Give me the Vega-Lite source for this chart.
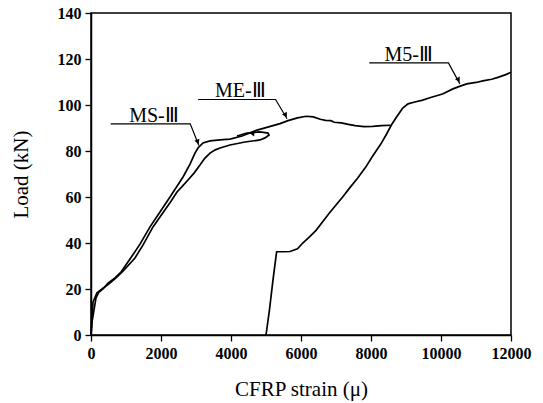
{
  "$schema": "https://vega.github.io/schema/vega-lite/v6.json",
  "autosize": "none",
  "width": 420,
  "height": 322,
  "padding": {"left": 91, "top": 13, "right": 32, "bottom": 68},
  "background": "white",
  "config": {
    "view": {"stroke": "black", "strokeWidth": 1.5},
    "font": "Liberation Serif"
  },
  "datasets": {
    "curves": [
      {"s": "A", "i": 0, "x": 0, "y": 0}, {"s": "A", "i": 1, "x": 29, "y": 5.7}, {"s": "A", "i": 2, "x": 86, "y": 10.9}, {"s": "A", "i": 3, "x": 143, "y": 16.1}, {"s": "A", "i": 4, "x": 229, "y": 18.7}, {"s": "A", "i": 5, "x": 343, "y": 20}, {"s": "A", "i": 6, "x": 486, "y": 22.6}, {"s": "A", "i": 7, "x": 686, "y": 24.8}, {"s": "A", "i": 8, "x": 857, "y": 27.4}, {"s": "A", "i": 9, "x": 1114, "y": 33}, {"s": "A", "i": 10, "x": 1400, "y": 39.5}, {"s": "A", "i": 11, "x": 1686, "y": 47}, {"s": "A", "i": 12, "x": 1971, "y": 53.5}, {"s": "A", "i": 13, "x": 2257, "y": 60}, {"s": "A", "i": 14, "x": 2629, "y": 68.7}, {"s": "A", "i": 15, "x": 2829, "y": 74.3}, {"s": "A", "i": 16, "x": 2971, "y": 79.1}, {"s": "A", "i": 17, "x": 3057, "y": 81.3}, {"s": "A", "i": 18, "x": 3200, "y": 83.5}, {"s": "A", "i": 19, "x": 3400, "y": 84.4}, {"s": "A", "i": 20, "x": 3686, "y": 84.8}, {"s": "A", "i": 21, "x": 3971, "y": 85.2}, {"s": "A", "i": 22, "x": 4314, "y": 86.5}, {"s": "A", "i": 23, "x": 4743, "y": 89.1}, {"s": "A", "i": 24, "x": 5100, "y": 90.6}, {"s": "A", "i": 25, "x": 5400, "y": 91.9}, {"s": "A", "i": 26, "x": 5629, "y": 93.2}, {"s": "A", "i": 27, "x": 5900, "y": 94.4}, {"s": "A", "i": 28, "x": 6150, "y": 95.1}, {"s": "A", "i": 29, "x": 6350, "y": 94.8}, {"s": "A", "i": 30, "x": 6550, "y": 93.8}, {"s": "A", "i": 31, "x": 6700, "y": 93.3}, {"s": "A", "i": 32, "x": 6850, "y": 93.2}, {"s": "A", "i": 33, "x": 6950, "y": 92.5}, {"s": "A", "i": 34, "x": 7150, "y": 92.2}, {"s": "A", "i": 35, "x": 7350, "y": 91.6}, {"s": "A", "i": 36, "x": 7550, "y": 91}, {"s": "A", "i": 37, "x": 7800, "y": 90.6}, {"s": "A", "i": 38, "x": 8050, "y": 90.7}, {"s": "A", "i": 39, "x": 8300, "y": 91}, {"s": "A", "i": 40, "x": 8560, "y": 91.2},
      {"s": "B", "i": 0, "x": 0, "y": 0}, {"s": "B", "i": 1, "x": 30, "y": 8}, {"s": "B", "i": 2, "x": 57, "y": 14.3}, {"s": "B", "i": 3, "x": 171, "y": 18.3}, {"s": "B", "i": 4, "x": 314, "y": 20}, {"s": "B", "i": 5, "x": 514, "y": 22.2}, {"s": "B", "i": 6, "x": 714, "y": 24.8}, {"s": "B", "i": 7, "x": 914, "y": 27.8}, {"s": "B", "i": 8, "x": 1257, "y": 33.5}, {"s": "B", "i": 9, "x": 1500, "y": 39.5}, {"s": "B", "i": 10, "x": 1771, "y": 47}, {"s": "B", "i": 11, "x": 2000, "y": 52}, {"s": "B", "i": 12, "x": 2171, "y": 55.7}, {"s": "B", "i": 13, "x": 2300, "y": 58.5}, {"s": "B", "i": 14, "x": 2457, "y": 62.2}, {"s": "B", "i": 15, "x": 2600, "y": 64.5}, {"s": "B", "i": 16, "x": 2771, "y": 67.4}, {"s": "B", "i": 17, "x": 2950, "y": 70.5}, {"s": "B", "i": 18, "x": 3114, "y": 73.9}, {"s": "B", "i": 19, "x": 3250, "y": 76.8}, {"s": "B", "i": 20, "x": 3400, "y": 79.1}, {"s": "B", "i": 21, "x": 3550, "y": 80.5}, {"s": "B", "i": 22, "x": 3686, "y": 81.3}, {"s": "B", "i": 23, "x": 3971, "y": 82.6}, {"s": "B", "i": 24, "x": 4400, "y": 83.9}, {"s": "B", "i": 25, "x": 4829, "y": 84.8}, {"s": "B", "i": 26, "x": 4971, "y": 85.7}, {"s": "B", "i": 27, "x": 5086, "y": 87}, {"s": "B", "i": 28, "x": 5057, "y": 87.8}, {"s": "B", "i": 29, "x": 4829, "y": 88.3}, {"s": "B", "i": 30, "x": 4457, "y": 87.8}, {"s": "B", "i": 31, "x": 4171, "y": 86.5},
      {"s": "M5", "i": 0, "x": 5000, "y": 0}, {"s": "M5", "i": 1, "x": 5100, "y": 11}, {"s": "M5", "i": 2, "x": 5200, "y": 24}, {"s": "M5", "i": 3, "x": 5304, "y": 36.2}, {"s": "M5", "i": 4, "x": 5500, "y": 36.2}, {"s": "M5", "i": 5, "x": 5686, "y": 36.3}, {"s": "M5", "i": 6, "x": 5900, "y": 37.5}, {"s": "M5", "i": 7, "x": 6050, "y": 40}, {"s": "M5", "i": 8, "x": 6250, "y": 42.8}, {"s": "M5", "i": 9, "x": 6430, "y": 45.5}, {"s": "M5", "i": 10, "x": 6630, "y": 49.5}, {"s": "M5", "i": 11, "x": 6800, "y": 52.8}, {"s": "M5", "i": 12, "x": 7000, "y": 56.5}, {"s": "M5", "i": 13, "x": 7190, "y": 60}, {"s": "M5", "i": 14, "x": 7420, "y": 64.5}, {"s": "M5", "i": 15, "x": 7610, "y": 68}, {"s": "M5", "i": 16, "x": 7850, "y": 73}, {"s": "M5", "i": 17, "x": 8030, "y": 77.4}, {"s": "M5", "i": 18, "x": 8280, "y": 83}, {"s": "M5", "i": 19, "x": 8450, "y": 87.5}, {"s": "M5", "i": 20, "x": 8590, "y": 91.5}, {"s": "M5", "i": 21, "x": 8760, "y": 95.4}, {"s": "M5", "i": 22, "x": 8900, "y": 98.5}, {"s": "M5", "i": 23, "x": 9057, "y": 100.5}, {"s": "M5", "i": 24, "x": 9250, "y": 101.3}, {"s": "M5", "i": 25, "x": 9452, "y": 102}, {"s": "M5", "i": 26, "x": 9750, "y": 103.5}, {"s": "M5", "i": 27, "x": 10045, "y": 104.8}, {"s": "M5", "i": 28, "x": 10341, "y": 107}, {"s": "M5", "i": 29, "x": 10550, "y": 108.2}, {"s": "M5", "i": 30, "x": 10736, "y": 109.2}, {"s": "M5", "i": 31, "x": 11000, "y": 109.8}, {"s": "M5", "i": 32, "x": 11230, "y": 110.6}, {"s": "M5", "i": 33, "x": 11450, "y": 111.2}, {"s": "M5", "i": 34, "x": 11625, "y": 112}, {"s": "M5", "i": 35, "x": 11850, "y": 113.2}, {"s": "M5", "i": 36, "x": 12000, "y": 114.2}
    ],
    "leaders": [
      {"s": "L1", "i": 0, "x": 563, "y": 91.8}, {"s": "L1", "i": 1, "x": 2835, "y": 91.8}, {"s": "L1", "i": 2, "x": 3082, "y": 82.4},
      {"s": "L2", "i": 0, "x": 3062, "y": 102.4}, {"s": "L2", "i": 1, "x": 5274, "y": 102.4}, {"s": "L2", "i": 2, "x": 5600, "y": 94},
      {"s": "L3", "i": 0, "x": 7951, "y": 118.3}, {"s": "L3", "i": 1, "x": 10213, "y": 118.3}, {"s": "L3", "i": 2, "x": 10539, "y": 109.2}
    ],
    "labels": [
      {"t": "MS-Ⅲ", "x": 1798, "y": 91.8},
      {"t": "ME-Ⅲ", "x": 4267, "y": 102.4},
      {"t": "M5-Ⅲ", "x": 9077, "y": 118.3}
    ],
    "heads": [
      {"x": 3050, "y": 83.9, "a": 338},
      {"x": 5560, "y": 95.6, "a": 330},
      {"x": 10500, "y": 110.9, "a": 331},
      {"x": 4600, "y": 87.6, "a": 95}
    ]
  },
  "layer": [
    {
      "data": {"name": "curves"},
      "mark": {"type": "line", "color": "black", "strokeWidth": 1.7},
      "encoding": {
        "x": {"field": "x", "type": "quantitative", "scale": {"domain": [0, 12000], "nice": false},
          "axis": {"title": "CFRP strain (μ)", "values": [0, 1000, 2000, 3000, 4000, 5000, 6000, 7000, 8000, 9000, 10000, 11000, 12000], "grid": false,
            "labelExpr": "datum.value % 2000 === 0 ? format(datum.value, 'd') : ''",
            "domainColor": "black", "domainWidth": 1.5, "tickColor": "black", "tickWidth": 1.3,
            "tickSize": {"condition": {"test": "datum.value % 2000 === 0", "value": 6}, "value": 4},
            "labelFont": "Liberation Serif", "labelFontSize": 16, "labelFontWeight": "bold", "labelColor": "black", "labelPadding": 4,
            "labelFlush": false, "labelOverlap": false,
            "titleFont": "Liberation Serif", "titleFontSize": 21, "titleFontWeight": "normal", "titleColor": "black",
            "titleX": 210, "titleY": 54, "titleBaseline": "middle", "titleAlign": "center"}},
        "y": {"field": "y", "type": "quantitative", "scale": {"domain": [0, 140], "nice": false},
          "axis": {"title": "Load (kN)", "values": [0, 10, 20, 30, 40, 50, 60, 70, 80, 90, 100, 110, 120, 130, 140], "grid": false,
            "labelExpr": "datum.value % 20 === 0 ? format(datum.value, 'd') : ''",
            "domainColor": "black", "domainWidth": 1.5, "tickColor": "black", "tickWidth": 1.3,
            "tickSize": {"condition": {"test": "datum.value % 20 === 0", "value": 6}, "value": 4},
            "labelFont": "Liberation Serif", "labelFontSize": 16, "labelFontWeight": "bold", "labelColor": "black", "labelPadding": 4,
            "labelFlush": false, "labelOverlap": false,
            "titleFont": "Liberation Serif", "titleFontSize": 21, "titleFontWeight": "normal", "titleColor": "black",
            "titleX": -70, "titleY": 161, "titleAngle": 270, "titleBaseline": "middle", "titleAlign": "center"}},
        "detail": {"field": "s"},
        "order": {"field": "i", "type": "quantitative"}
      }
    },
    {
      "data": {"name": "leaders"},
      "mark": {"type": "line", "color": "black", "strokeWidth": 1.2},
      "encoding": {
        "x": {"field": "x", "type": "quantitative"},
        "y": {"field": "y", "type": "quantitative"},
        "detail": {"field": "s"},
        "order": {"field": "i", "type": "quantitative"}
      }
    },
    {
      "data": {"name": "heads"},
      "mark": {"type": "point", "shape": "triangle-down", "filled": true, "color": "black", "size": 30, "opacity": 1},
      "encoding": {
        "x": {"field": "x", "type": "quantitative"},
        "y": {"field": "y", "type": "quantitative"},
        "angle": {"field": "a", "type": "quantitative", "scale": null}
      }
    },
    {
      "data": {"name": "labels"},
      "mark": {"type": "text", "font": "Liberation Serif", "fontSize": 20, "color": "black", "baseline": "alphabetic", "align": "center", "dy": -2},
      "encoding": {
        "x": {"field": "x", "type": "quantitative"},
        "y": {"field": "y", "type": "quantitative"},
        "text": {"field": "t"}
      }
    }
  ]
}
